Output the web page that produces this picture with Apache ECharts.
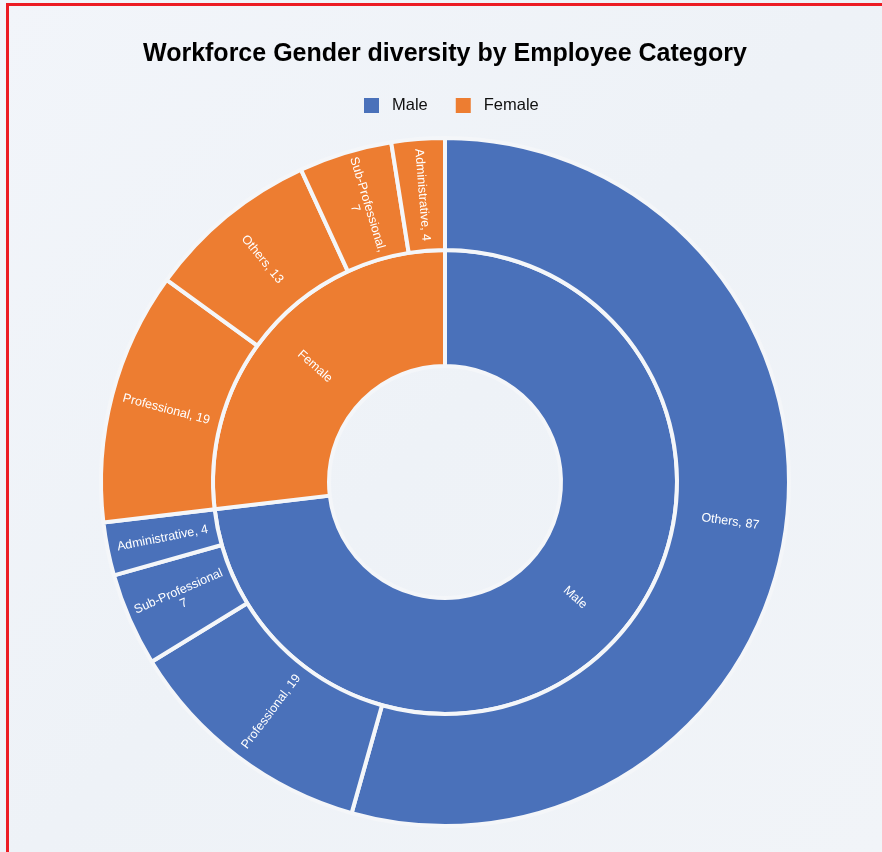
<!DOCTYPE html>
<html>
<head>
<meta charset="utf-8">
<script src="https://cdn.jsdelivr.net/npm/echarts@6/dist/echarts.min.js"></script>
<style>
  html, body { margin: 0; padding: 0; background: #f5f7fa; }
  #main { position: absolute; left: 0; top: 0; width: 882px; height: 852px; }
  #frame {
    position: absolute; left: 6px; top: 3px; width: 900px; height: 900px;
    border-left: 3px solid #ec1c24; border-top: 3px solid #ec1c24;
    pointer-events: none;
  }
</style>
</head>
<body>
<div id="main"></div>
<div id="frame"></div>
<script>
// genders (inner ring) and colours
var genders = ['Male', 'Female'];
var genderColors = ['#4a71ba', '#ed7d31'];

// employee categories (outer ring), per gender
var maleCategories = ['Others', 'Professional', 'Sub-Professional', 'Administrative'];
var maleValues = [87, 19, 7, 4];
var femaleCategories = ['Professional', 'Others', 'Sub-Professional', 'Administrative'];
var femaleValues = [19, 13, 7, 4];

function children(cats, vals, gender, color) {
  return cats.map(function (c, i) {
    var item = { name: c, value: vals[i], itemStyle: { color: color } };
    if (c === 'Sub-Professional') {
      // this label wraps in the original
      item.label = { formatter: gender === 'Female' ? '{b},\n{c}' : '{b}\n{c}' };
    }
    return item;
  });
}

var data = [
  { name: genders[0], itemStyle: { color: genderColors[0] }, children: children(maleCategories, maleValues, 'Male', genderColors[0]) },
  { name: genders[1], itemStyle: { color: genderColors[1] }, children: children(femaleCategories, femaleValues, 'Female', genderColors[1]) }
];

var myChart = echarts.init(document.getElementById('main'));

var option = {
  backgroundColor: {
    type: 'linear', x: 0, y: 0, x2: 1, y2: 1,
    colorStops: [
      { offset: 0, color: '#f2f5fa' },
      { offset: 0.5, color: '#eef2f7' },
      { offset: 1, color: '#f1f4f8' }
    ]
  },
  title: {
    text: 'Workforce Gender diversity by Employee Category',
    left: 138,
    top: 37,
    textStyle: { fontFamily: 'Liberation Sans', fontSize: 25, fontWeight: 'bold', color: '#000' }
  },
  legend: {
    top: 92,
    left: 359,
    icon: 'rect',
    itemWidth: 15,
    itemHeight: 15,
    itemGap: 28,
    data: genders,
    textStyle: { fontFamily: 'Liberation Sans', fontSize: 16.5, color: '#111', padding: [0, 0, 0, 8] }
  },
  series: [
    {
      // only here so the legend has its two entries
      type: 'pie',
      radius: [0, 0],
      silent: true,
      label: { show: false },
      labelLine: { show: false },
      data: genders.map(function (g, i) {
        return { name: g, value: 1, itemStyle: { color: genderColors[i] } };
      })
    },
    {
      type: 'sunburst',
      center: [445, 482],
      sort: null,
      startAngle: 90,
      data: data,
      itemStyle: { borderColor: '#f4f6f9', borderWidth: 4 },
      label: {
        rotate: 'radial',
        color: '#fff',
        fontFamily: 'Liberation Sans',
        fontSize: 12.5
      },
      levels: [
        {},
        { r0: 116, r: 232, label: { formatter: '{b}' } },
        { r0: 232, r: 344, label: { formatter: '{b}, {c}' } }
      ]
    }
  ]
};

myChart.setOption(option);
</script>
</body>
</html>
